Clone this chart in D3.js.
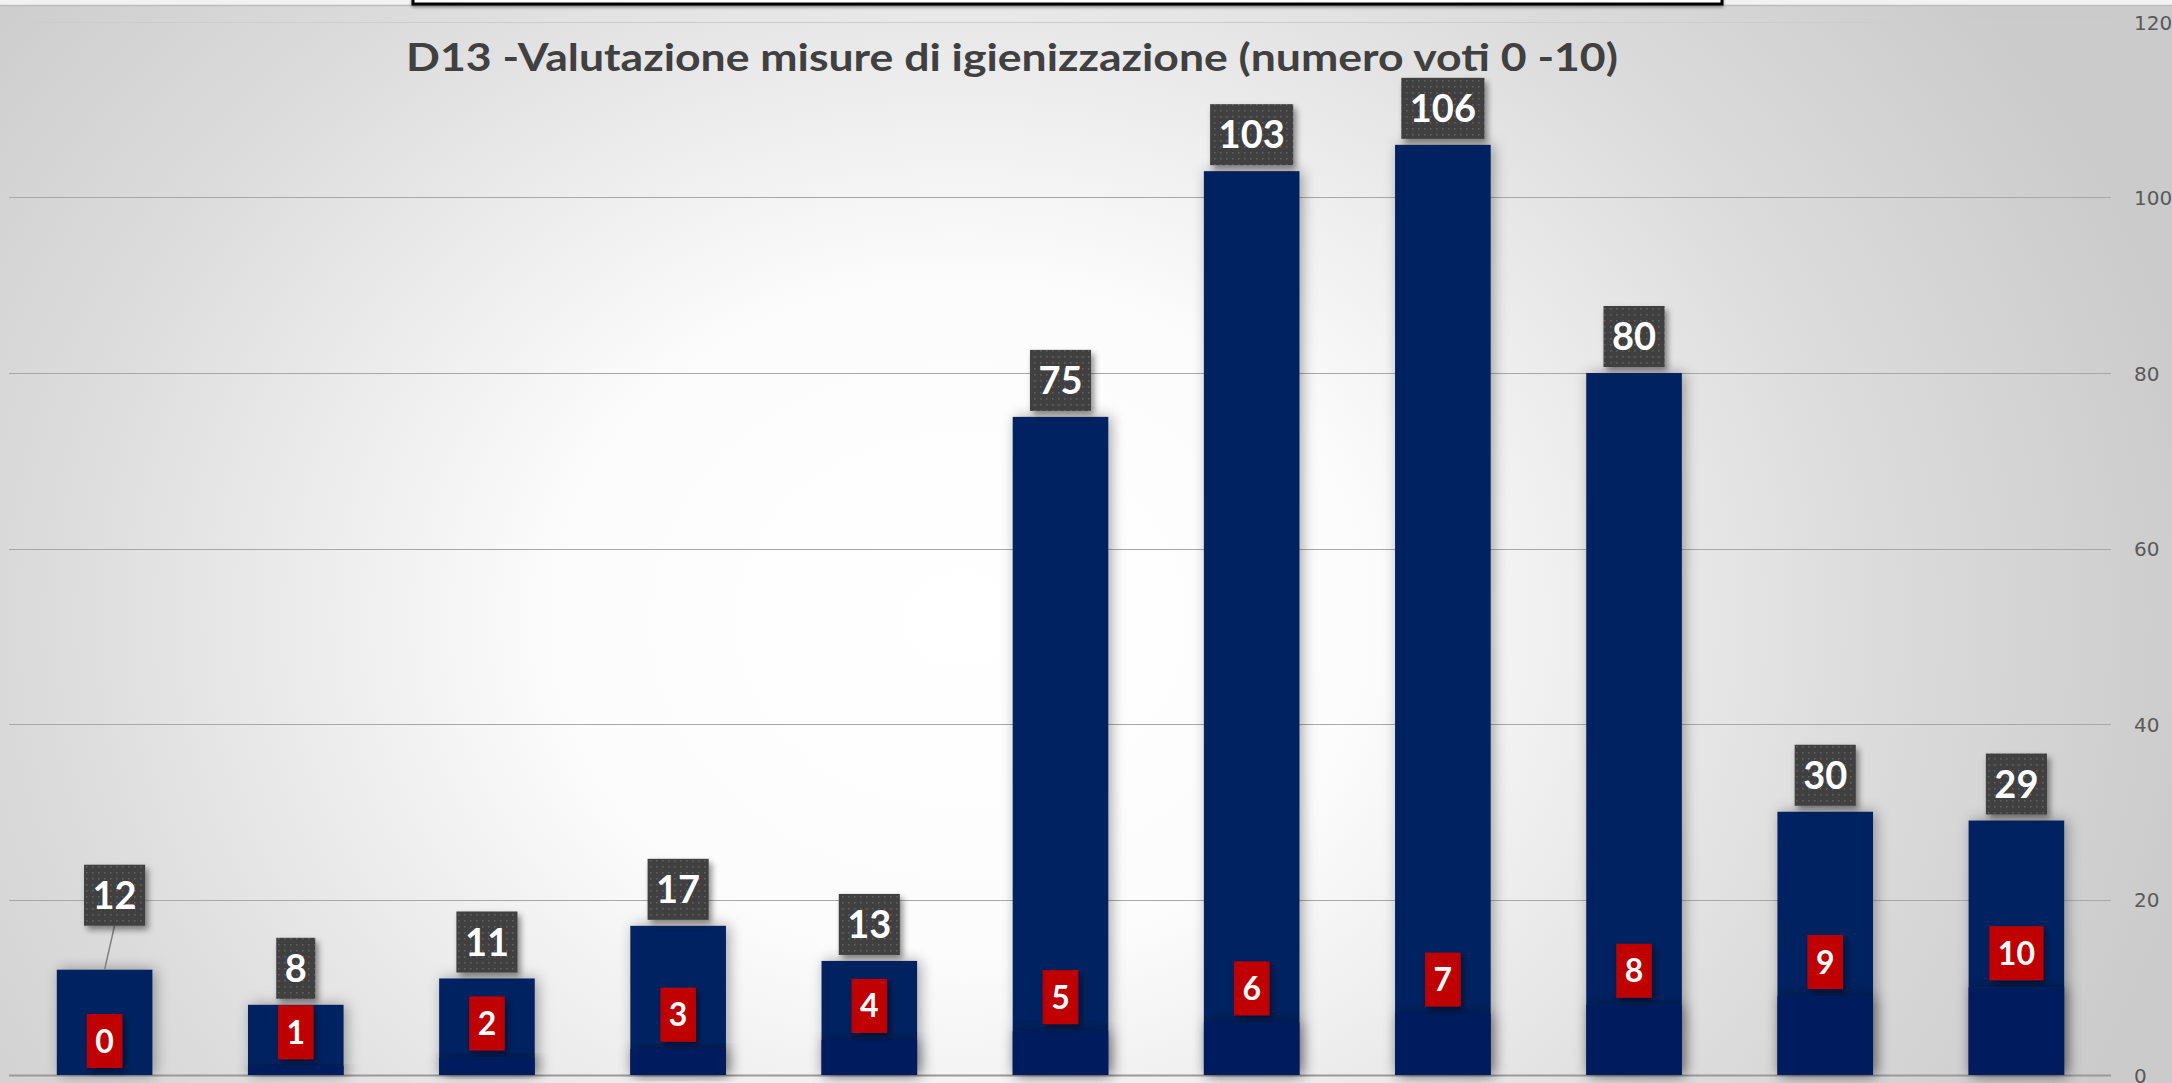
<!DOCTYPE html>
<html>
<head>
<meta charset="utf-8">
<script src="https://cdn.jsdelivr.net/npm/d3@7"></script>
<style>
  html, body { margin: 0; padding: 0; background: #ffffff; }
  svg { display: block; }
</style>
</head>
<body>
<svg id="chart" width="2172" height="1083"></svg>
<script>
// ---- data ----
const categories = ["0", "1", "2", "3", "4", "5", "6", "7", "8", "9", "10"];
const votes = [12, 8, 11, 17, 13, 75, 103, 106, 80, 30, 29];
const scoreValues = [0, 1, 2, 3, 4, 5, 6, 7, 8, 9, 10];
const yTicks = [0, 20, 40, 60, 80, 100, 120];
const titleText = "D13 -Valutazione misure di igienizzazione (numero voti 0 -10)";

const W = 2172, H = 1083;
const svg = d3.select("#chart");
const defs = svg.append("defs");

// background gradient
const bg = defs.append("radialGradient").attr("id", "bgGrad")
  .attr("gradientUnits", "userSpaceOnUse")
  .attr("cx", 0).attr("cy", 0).attr("r", 1)
  .attr("gradientTransform", "translate(960,620) scale(1260,1050)");
[[0, "#ffffff"], [0.32, "#fcfcfc"], [0.72, "#dcdcdc"], [1, "#cbcbcb"]]
  .forEach(([o, c]) => bg.append("stop").attr("offset", o).attr("stop-color", c));

// shadows
const fBar = defs.append("filter").attr("id", "barShadow")
  .attr("x", "-60%").attr("y", "-20%").attr("width", "220%").attr("height", "140%");
fBar.append("feDropShadow").attr("dx", 3).attr("dy", 0).attr("stdDeviation", 7)
  .attr("flood-color", "#000").attr("flood-opacity", 0.35);
const fLab = defs.append("filter").attr("id", "labShadow")
  .attr("x", "-40%").attr("y", "-40%").attr("width", "180%").attr("height", "180%");
fLab.append("feDropShadow").attr("dx", 3).attr("dy", 4).attr("stdDeviation", 3)
  .attr("flood-color", "#000").attr("flood-opacity", 0.45);
const fBox = defs.append("filter").attr("id", "boxShadow")
  .attr("x", "-5%").attr("y", "-50%").attr("width", "110%").attr("height", "300%");
fBox.append("feDropShadow").attr("dx", 0).attr("dy", 2).attr("stdDeviation", 1.5)
  .attr("flood-color", "#000").attr("flood-opacity", 0.35);

// dotted pattern for value labels
const pat = defs.append("pattern").attr("id", "dots")
  .attr("patternUnits", "userSpaceOnUse").attr("width", 6).attr("height", 6);
pat.append("rect").attr("width", 6).attr("height", 6).attr("fill", "#404040");
pat.append("rect").attr("x", 2).attr("y", 2).attr("width", 1.6).attr("height", 1.6).attr("fill", "#5e5e5e");

// background
svg.append("rect").attr("width", W).attr("height", H).attr("fill", "url(#bgGrad)");
svg.append("rect").attr("x", 0).attr("y", 0).attr("width", W).attr("height", 5).attr("fill", "#f2f2f2");
svg.append("line").attr("x1", 0).attr("x2", W).attr("y1", 5.5).attr("y2", 5.5)
  .attr("stroke", "#bdbdbd").attr("stroke-width", 1.5);

// top white box
svg.append("rect").attr("x", 413).attr("y", -10).attr("width", 1309).attr("height", 14)
  .attr("fill", "#ffffff").attr("stroke", "#000").attr("stroke-width", 3)
  .attr("filter", "url(#boxShadow)");

// scales
const x = d3.scaleBand().domain(categories).range([9, 2112]).paddingInner(0.5).paddingOuter(0.25);
const y = d3.scaleLinear().domain([0, 120]).range([1075, 22]);

// gridlines
svg.append("g").selectAll("line").data(yTicks).join("line")
  .attr("x1", 9).attr("x2", 2111)
  .attr("y1", d => Math.round(y(d)) + 0.5).attr("y2", d => Math.round(y(d)) + 0.5)
  .attr("stroke", d => d === 120 ? "#cdcdcd" : (d === 0 ? "#9a9a9a" : "#a8a8a8"))
  .attr("stroke-width", d => d === 0 ? 2 : 1.2);

// right axis labels
const yAxis = d3.axisRight(y).tickValues(yTicks).tickSize(0).tickPadding(0);
const axG = svg.append("g").attr("transform", "translate(2134,0)").call(yAxis);
axG.select(".domain").remove();
axG.selectAll("text")
  .attr("font-family", "'DejaVu Sans', sans-serif")
  .attr("font-size", 20).attr("fill", "#595959")
  .attr("dy", "0.36em");

// title (scaled horizontally to match the reference width)
const titleG = svg.append("g");
const title = titleG.append("text").attr("x", 0).attr("y", 0)
  .attr("text-anchor", "middle")
  .attr("font-family", "Lato, 'Open Sans', sans-serif").attr("font-weight", 700)
  .attr("font-size", 39).attr("fill", "#404040")
  .text(titleText);
const tw = title.node().getComputedTextLength();
titleG.attr("transform", `translate(1012,71) scale(${1212 / tw},1)`);

// bars: main series
const barsG = svg.append("g");
barsG.selectAll("rect.main").data(votes).join("rect").attr("class", "main")
  .attr("x", (d, i) => x(categories[i])).attr("width", x.bandwidth())
  .attr("y", d => y(d)).attr("height", d => y(0) - y(d))
  .attr("fill", "#002060").attr("filter", "url(#barShadow)");
// bars: score series (overlapping)
barsG.selectAll("rect.score").data(scoreValues).join("rect").attr("class", "score")
  .attr("x", (d, i) => x(categories[i])).attr("width", x.bandwidth())
  .attr("y", d => y(d)).attr("height", d => y(0) - y(d))
  .attr("fill", "#001f5e").attr("filter", "url(#barShadow)");

// value labels (dark)
const valFont = 38;
const vl = svg.append("g").selectAll("g").data(votes).join("g");
vl.each(function (d, i) {
  const g = d3.select(this);
  const cx = x(categories[i]) + x.bandwidth() / 2;
  const t = g.append("text").attr("text-anchor", "middle")
    .attr("font-family", "Lato, sans-serif").attr("font-weight", 700)
    .attr("font-size", valFont).attr("fill", "#ffffff").text(d);
  const w = t.node().getComputedTextLength() + 17;
  const h = 61;
  let bx = cx, bottom = y(d) - 6;
  if (i === 0) { bx = cx + 10; bottom = y(d) - 44; }
  g.insert("rect", "text").attr("x", bx - w / 2).attr("y", bottom - h)
    .attr("width", w).attr("height", h).attr("fill", "url(#dots)")
    .attr("filter", "url(#labShadow)");
  t.attr("x", bx).attr("y", bottom - h / 2 + valFont * 0.36);
  if (i === 0) {
    g.insert("line", "rect").attr("x1", bx).attr("y1", bottom).attr("x2", cx).attr("y2", y(d))
      .attr("stroke", "#7f7f7f").attr("stroke-width", 1.5);
  }
});

// score labels (red)
const scFont = 32;
const sl = svg.append("g").selectAll("g").data(scoreValues).join("g");
sl.each(function (d, i) {
  const g = d3.select(this);
  const cx = x(categories[i]) + x.bandwidth() / 2;
  const t = g.append("text").attr("text-anchor", "middle")
    .attr("font-family", "Lato, sans-serif").attr("font-weight", 700)
    .attr("font-size", scFont).attr("fill", "#ffffff").text(d);
  const w = t.node().getComputedTextLength() + 17;
  const h = 54;
  const bottom = y(d) - 7;
  g.insert("rect", "text").attr("x", cx - w / 2).attr("y", bottom - h)
    .attr("width", w).attr("height", h).attr("fill", "#c00000")
    .attr("filter", "url(#labShadow)");
  t.attr("x", cx).attr("y", bottom - h / 2 + scFont * 0.36);
});
</script>
</body>
</html>
